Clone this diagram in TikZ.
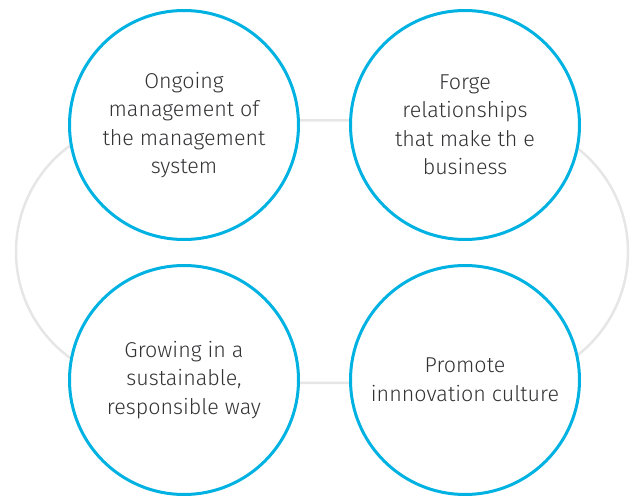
\documentclass[tikz,border=0pt]{standalone}
\usepackage{fontspec}
\setmainfont{Fira Sans}[UprightFont=* Light]
\definecolor{ringblue}{HTML}{00B2E2}
\definecolor{loopgray}{HTML}{E6E6E6}
\definecolor{labelgray}{HTML}{333336}
\tikzset{
  pillar/.style={circle,draw=ringblue,line width=3pt,fill=white,minimum size=229pt,
    inner sep=0pt,align=center,text=labelgray,font=\fontsize{21.5}{28.5}\selectfont},
}
\begin{document}
\begin{tikzpicture}[x=1pt,y=-1pt]
\useasboundingbox (0,0) rectangle (638,497);

% loop behind the circles
\draw[loopgray,line width=2.5pt,rounded corners=131.25pt] (16,120.5) rectangle (628,383);

% the four circles
\node[pillar] (ongoing) at (184,125) {Ongoing\\management of\\the management\\system};
\node[pillar] (forge) at (465,125) {Forge\\relationships\\that make th e\\business};
\node[pillar] (growing) at (184,380) {Growing in a\\sustainable,\\responsible way};
\node[pillar] (promote) at (465,380) {Promote\\innnovation culture};
\end{tikzpicture}
\end{document}
